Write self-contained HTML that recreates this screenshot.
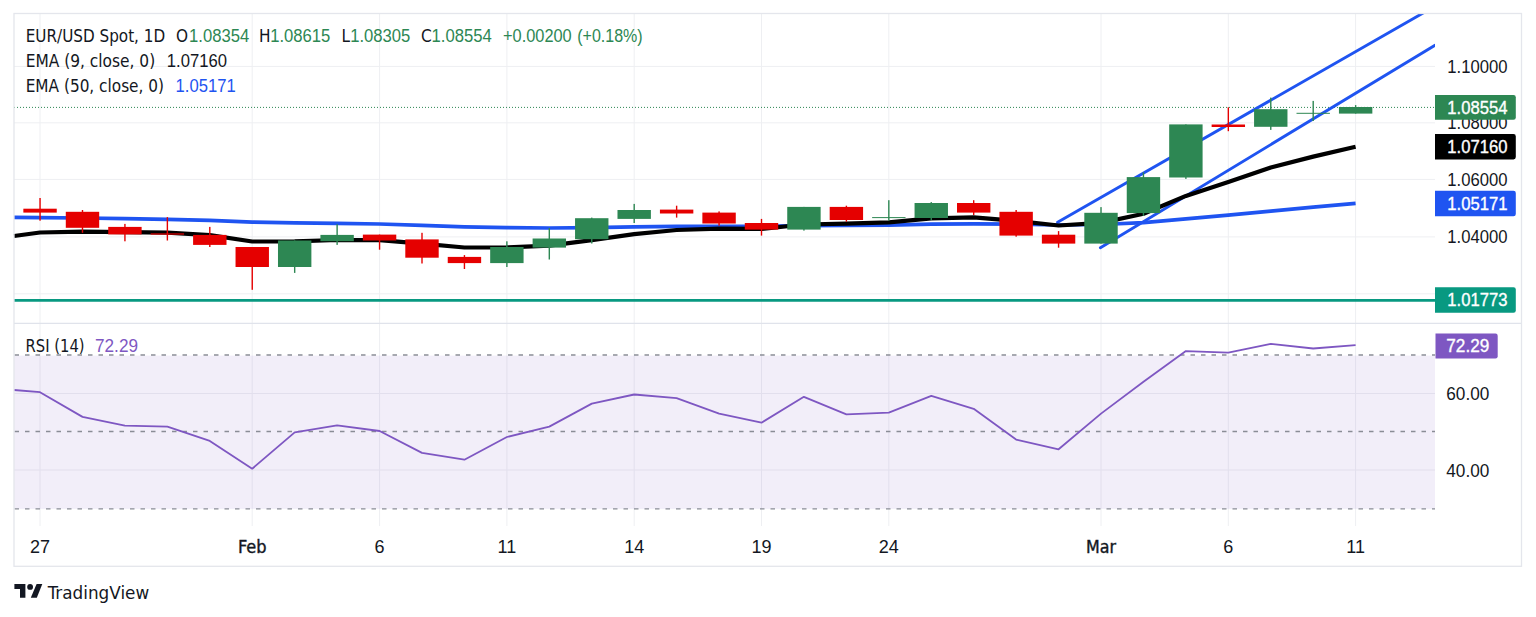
<!DOCTYPE html><html><head><meta charset="utf-8"><title>EUR/USD Spot 1D chart</title><style>
html,body{margin:0;padding:0;background:#fff;width:1536px;height:617px;overflow:hidden}
svg{display:block}
text{font-family:"DejaVu Sans","Liberation Sans",sans-serif;font-stretch:condensed;font-size:17px}
.b{font-weight:normal;stroke:#131722;stroke-width:0.35px}
.w{stroke:#fff;stroke-width:0.35px}
.n{font-family:"Liberation Sans","DejaVu Sans",sans-serif;font-stretch:normal;font-size:18px}
</style></head><body>
<svg width="1536" height="617" viewBox="0 0 1536 617" fill="#131722">
<rect width="1536" height="617" fill="#fff"/>
<g stroke="#eeeff2" stroke-width="1">
<line x1="14" y1="66.4" x2="1435" y2="66.4"/>
<line x1="14" y1="122.8" x2="1435" y2="122.8"/>
<line x1="14" y1="179.4" x2="1435" y2="179.4"/>
<line x1="14" y1="236.9" x2="1435" y2="236.9"/>
<line x1="14" y1="293.8" x2="1435" y2="293.8"/>
<line x1="14" y1="393.5" x2="1435" y2="393.5" />
<line x1="14" y1="470.0" x2="1435" y2="470.0" />
<line x1="40.0" y1="14" x2="40.0" y2="526"/>
<line x1="252.2" y1="14" x2="252.2" y2="526"/>
<line x1="379.6" y1="14" x2="379.6" y2="526"/>
<line x1="506.9" y1="14" x2="506.9" y2="526"/>
<line x1="634.2" y1="14" x2="634.2" y2="526"/>
<line x1="761.5" y1="14" x2="761.5" y2="526"/>
<line x1="888.8" y1="14" x2="888.8" y2="526"/>
<line x1="1101.0" y1="14" x2="1101.0" y2="526"/>
<line x1="1228.3" y1="14" x2="1228.3" y2="526"/>
<line x1="1355.6" y1="14" x2="1355.6" y2="526"/>
</g>
<rect x="14" y="355.6" width="1421" height="153.3" fill="#7e57c2" fill-opacity="0.1"/>
<g stroke="#8a8d96" stroke-width="1.3" stroke-dasharray="4.5 6">
<line x1="14.5" y1="355.0" x2="1435" y2="355.0"/>
<line x1="14.5" y1="431.5" x2="1435" y2="431.5"/>
<line x1="14.5" y1="508.9" x2="1435" y2="508.9"/>
</g>
<line x1="14" y1="323.4" x2="1521" y2="323.4" stroke="#e0e3eb" stroke-width="1.3"/>
<line x1="14" y1="107.4" x2="1435" y2="107.4" stroke="#2d8753" stroke-width="1" stroke-dasharray="1 2"/>
<line x1="14" y1="300.3" x2="1435" y2="300.3" stroke="#089981" stroke-width="2.8"/>
<clipPath id="cp"><rect x="14" y="14" width="1421" height="309"/></clipPath>
<g clip-path="url(#cp)" stroke="#1f54f1" stroke-width="2.9" stroke-linecap="round">
<line x1="1057.6" y1="222.2" x2="1424" y2="12.5"/>
<line x1="1100.4" y1="247.7" x2="1435" y2="45.2"/>
</g>
<polyline points="14.0,217.3 40.0,217.6 82.5,218.0 124.9,218.6 167.4,219.3 209.8,220.3 252.2,222.1 294.7,222.8 337.1,223.3 379.6,224.0 422.0,225.3 464.4,226.8 506.9,227.6 549.3,228.0 591.8,227.6 634.2,226.9 676.6,226.4 719.1,226.3 761.5,226.4 803.9,225.7 846.4,225.4 888.8,225.1 931.3,224.2 973.7,223.8 1016.1,224.2 1058.6,225.0 1101.0,224.5 1143.5,222.7 1185.9,218.8 1228.3,215.2 1270.8,211.1 1313.2,207.2 1355.6,203.3" fill="none" stroke="#1f54f1" stroke-width="3.7" stroke-linejoin="round"/>
<polyline points="14.0,236.0 40.0,232.5 82.5,231.6 124.9,232.1 167.4,232.6 209.8,235.1 252.2,241.5 294.7,241.3 337.1,240.0 379.6,240.1 422.0,243.6 464.4,247.5 506.9,247.4 549.3,245.6 591.8,240.1 634.2,234.1 676.6,230.0 719.1,228.7 761.5,228.9 803.9,224.5 846.4,223.6 888.8,222.3 931.3,218.4 973.7,217.3 1016.1,220.9 1058.6,225.5 1101.0,222.9 1143.5,213.8 1185.9,195.9 1228.3,182.1 1270.8,167.5 1313.2,156.6 1355.6,146.7" fill="none" stroke="#000" stroke-width="4.2" stroke-linejoin="round"/>
<rect x="39.35" y="198.0" width="1.4" height="22.7" fill="#e50000"/>
<rect x="23.35" y="208.7" width="33.4" height="3.9" fill="#e50000"/>
<rect x="81.79" y="210.0" width="1.4" height="22.8" fill="#e50000"/>
<rect x="65.79" y="211.8" width="33.4" height="16.0" fill="#e50000"/>
<rect x="124.23" y="223.9" width="1.4" height="17.4" fill="#e50000"/>
<rect x="108.23" y="226.9" width="33.4" height="7.5" fill="#e50000"/>
<rect x="166.67" y="217.1" width="1.4" height="23.4" fill="#e50000"/>
<rect x="150.67" y="233.4" width="33.4" height="1.2" fill="#e50000"/>
<rect x="209.10" y="226.9" width="1.4" height="20.1" fill="#e50000"/>
<rect x="193.10" y="234.9" width="33.4" height="10.0" fill="#e50000"/>
<rect x="251.54" y="247.0" width="1.4" height="42.8" fill="#e50000"/>
<rect x="235.54" y="247.0" width="33.4" height="20.0" fill="#e50000"/>
<rect x="293.98" y="240.5" width="1.4" height="32.4" fill="#2d8753"/>
<rect x="277.98" y="240.5" width="33.4" height="26.5" fill="#2d8753"/>
<rect x="336.42" y="224.2" width="1.4" height="20.7" fill="#2d8753"/>
<rect x="320.42" y="234.9" width="33.4" height="6.3" fill="#2d8753"/>
<rect x="378.86" y="234.6" width="1.4" height="15.1" fill="#e50000"/>
<rect x="362.86" y="234.6" width="33.4" height="5.9" fill="#e50000"/>
<rect x="421.30" y="232.8" width="1.4" height="30.7" fill="#e50000"/>
<rect x="405.30" y="239.4" width="33.4" height="18.3" fill="#e50000"/>
<rect x="463.74" y="255.1" width="1.4" height="13.9" fill="#e50000"/>
<rect x="447.74" y="256.9" width="33.4" height="6.2" fill="#e50000"/>
<rect x="506.17" y="241.3" width="1.4" height="25.7" fill="#2d8753"/>
<rect x="490.17" y="247.0" width="33.4" height="16.1" fill="#2d8753"/>
<rect x="548.61" y="228.0" width="1.4" height="31.5" fill="#2d8753"/>
<rect x="532.61" y="238.5" width="33.4" height="9.1" fill="#2d8753"/>
<rect x="591.05" y="217.6" width="1.4" height="25.9" fill="#2d8753"/>
<rect x="575.05" y="218.2" width="33.4" height="21.0" fill="#2d8753"/>
<rect x="633.49" y="203.9" width="1.4" height="19.1" fill="#2d8753"/>
<rect x="617.49" y="210.0" width="33.4" height="8.9" fill="#2d8753"/>
<rect x="675.93" y="205.7" width="1.4" height="11.9" fill="#e50000"/>
<rect x="659.93" y="209.6" width="33.4" height="3.9" fill="#e50000"/>
<rect x="718.37" y="211.4" width="1.4" height="14.3" fill="#e50000"/>
<rect x="702.37" y="212.6" width="33.4" height="10.9" fill="#e50000"/>
<rect x="760.80" y="218.9" width="1.4" height="16.7" fill="#e50000"/>
<rect x="744.80" y="223.0" width="33.4" height="6.6" fill="#e50000"/>
<rect x="803.24" y="206.9" width="1.4" height="23.7" fill="#2d8753"/>
<rect x="787.24" y="206.9" width="33.4" height="22.7" fill="#2d8753"/>
<rect x="845.68" y="205.7" width="1.4" height="16.0" fill="#e50000"/>
<rect x="829.68" y="206.9" width="33.4" height="13.1" fill="#e50000"/>
<rect x="888.12" y="200.2" width="1.4" height="20.5" fill="#2d8753"/>
<rect x="872.12" y="217.1" width="33.4" height="1.0" fill="#2d8753"/>
<rect x="930.56" y="202.1" width="1.4" height="17.9" fill="#2d8753"/>
<rect x="914.56" y="203.0" width="33.4" height="15.0" fill="#2d8753"/>
<rect x="973.00" y="200.2" width="1.4" height="14.8" fill="#e50000"/>
<rect x="957.00" y="203.0" width="33.4" height="9.6" fill="#e50000"/>
<rect x="1015.44" y="210.0" width="1.4" height="26.7" fill="#e50000"/>
<rect x="999.44" y="211.8" width="33.4" height="23.8" fill="#e50000"/>
<rect x="1057.87" y="231.1" width="1.4" height="16.6" fill="#e50000"/>
<rect x="1041.87" y="234.7" width="33.4" height="8.9" fill="#e50000"/>
<rect x="1100.31" y="207.1" width="1.4" height="36.5" fill="#2d8753"/>
<rect x="1084.31" y="212.8" width="33.4" height="30.8" fill="#2d8753"/>
<rect x="1142.75" y="172.3" width="1.4" height="43.7" fill="#2d8753"/>
<rect x="1126.75" y="177.1" width="33.4" height="36.0" fill="#2d8753"/>
<rect x="1185.19" y="124.4" width="1.4" height="54.5" fill="#2d8753"/>
<rect x="1169.19" y="124.4" width="33.4" height="53.1" fill="#2d8753"/>
<rect x="1227.63" y="107.3" width="1.4" height="23.9" fill="#e50000"/>
<rect x="1211.63" y="124.5" width="33.4" height="2.5" fill="#e50000"/>
<rect x="1270.07" y="97.6" width="1.4" height="32.3" fill="#2d8753"/>
<rect x="1254.07" y="109.2" width="33.4" height="17.6" fill="#2d8753"/>
<rect x="1312.50" y="100.9" width="1.4" height="20.1" fill="#2d8753"/>
<rect x="1296.50" y="112.8" width="33.4" height="1.0" fill="#2d8753"/>
<rect x="1354.94" y="105.1" width="1.4" height="8.5" fill="#2d8753"/>
<rect x="1338.94" y="107.0" width="33.4" height="6.6" fill="#2d8753"/>
<polyline points="14.0,390.0 40.0,392.2 82.5,416.9 124.9,425.6 167.4,426.6 209.8,440.9 252.2,468.7 294.7,432.4 337.1,425.3 379.6,431.0 422.0,452.9 464.4,459.7 506.9,437.0 549.3,426.6 591.8,403.6 634.2,394.5 676.6,398.1 719.1,413.6 761.5,422.7 803.9,396.8 846.4,414.3 888.8,412.7 931.3,395.8 973.7,408.8 1016.1,439.6 1058.6,449.3 1101.0,413.6 1143.5,381.8 1185.9,351.1 1228.3,352.7 1270.8,343.9 1313.2,348.5 1355.6,345.2" fill="none" stroke="#7e57c2" stroke-width="1.8" stroke-linejoin="round"/>
<rect x="14" y="13.5" width="1507.5" height="552.8" fill="none" stroke="#e4e6ec" stroke-width="1.3"/>
<text x="25.7" y="41.7" textLength="139.5" lengthAdjust="spacingAndGlyphs">EUR/USD Spot, 1D</text>
<text x="176.0" y="41.7">O</text>
<text x="189.0" y="41.7" fill="#2d8753" textLength="60.2" lengthAdjust="spacingAndGlyphs" class="n">1.08354</text>
<text x="258.9" y="41.7">H</text>
<text x="270.2" y="41.7" fill="#2d8753" textLength="60.2" lengthAdjust="spacingAndGlyphs" class="n">1.08615</text>
<text x="341.4" y="41.7">L</text>
<text x="350.2" y="41.7" fill="#2d8753" textLength="60.2" lengthAdjust="spacingAndGlyphs" class="n">1.08305</text>
<text x="421.0" y="41.7">C</text>
<text x="431.6" y="41.7" fill="#2d8753" textLength="60.2" lengthAdjust="spacingAndGlyphs" class="n">1.08554</text>
<text x="503.0" y="41.7" fill="#2d8753" textLength="68.7" lengthAdjust="spacingAndGlyphs" class="n">+0.00200</text>
<text x="577.2" y="41.7" fill="#2d8753" textLength="65.5" lengthAdjust="spacingAndGlyphs" class="n">(+0.18%)</text>
<text x="25.7" y="66.8" textLength="129.5" lengthAdjust="spacingAndGlyphs">EMA (9, close, 0)</text>
<text x="166.8" y="66.8" textLength="60.2" lengthAdjust="spacingAndGlyphs" class="n">1.07160</text>
<text x="25.7" y="91.6" textLength="138.3" lengthAdjust="spacingAndGlyphs">EMA (50, close, 0)</text>
<text x="175.5" y="91.6" fill="#1f54f1" textLength="60.2" lengthAdjust="spacingAndGlyphs" class="n">1.05171</text>
<text x="25.6" y="351.9" textLength="59.0" lengthAdjust="spacingAndGlyphs">RSI (14)</text>
<text x="95.0" y="351.9" fill="#7e57c2" textLength="43.0" lengthAdjust="spacingAndGlyphs" class="n">72.29</text>
<text x="1447.3" y="72.6" textLength="60.2" lengthAdjust="spacingAndGlyphs" class="n">1.10000</text>
<text x="1447.3" y="129.3" textLength="60.2" lengthAdjust="spacingAndGlyphs" class="n">1.08000</text>
<text x="1447.3" y="185.8" textLength="60.2" lengthAdjust="spacingAndGlyphs" class="n">1.06000</text>
<text x="1447.3" y="242.8" textLength="60.2" lengthAdjust="spacingAndGlyphs" class="n">1.04000</text>
<path d="M1435,95.0 H1513.5 Q1515.8,95.0 1515.8,97.3 V117.4 Q1515.8,119.7 1513.5,119.7 H1435 Z" fill="#2d8753"/>
<text x="1447.3" y="113.55" fill="#fff" textLength="60.2" lengthAdjust="spacingAndGlyphs" class="n w">1.08554</text>
<path d="M1435,134.1 H1513.5 Q1515.8,134.1 1515.8,136.4 V157.1 Q1515.8,159.4 1513.5,159.4 H1435 Z" fill="#000"/>
<text x="1447.3" y="152.95" fill="#fff" textLength="60.2" lengthAdjust="spacingAndGlyphs" class="n w">1.07160</text>
<path d="M1435,190.8 H1513.5 Q1515.8,190.8 1515.8,193.10000000000002 V213.89999999999998 Q1515.8,216.2 1513.5,216.2 H1435 Z" fill="#1f54f1"/>
<text x="1447.3" y="209.7" fill="#fff" textLength="60.2" lengthAdjust="spacingAndGlyphs" class="n w">1.05171</text>
<path d="M1435,287.2 H1513.5 Q1515.8,287.2 1515.8,289.5 V310.5 Q1515.8,312.8 1513.5,312.8 H1435 Z" fill="#089981"/>
<text x="1447.3" y="306.2" fill="#fff" textLength="60.2" lengthAdjust="spacingAndGlyphs" class="n w">1.01773</text>
<path d="M1435.5,333.6 H1495.5 Q1497.7,333.6 1497.7,335.8 V356.3 Q1497.7,358.5 1495.5,358.5 H1435.5 Z" fill="#7e57c2"/>
<text x="1446.3" y="352.2" fill="#fff" textLength="43.0" lengthAdjust="spacingAndGlyphs" class="n w">72.29</text>
<text x="1446.3" y="400.0" textLength="43.0" lengthAdjust="spacingAndGlyphs" class="n">60.00</text>
<text x="1446.3" y="476.6" textLength="43.0" lengthAdjust="spacingAndGlyphs" class="n">40.00</text>
<text x="40.0" y="552.8" class="n" text-anchor="middle">27</text>
<text x="252.2" y="552.8" textLength="28.6" lengthAdjust="spacingAndGlyphs" class="b" text-anchor="middle">Feb</text>
<text x="379.6" y="552.8" class="n" text-anchor="middle">6</text>
<text x="506.9" y="552.8" class="n" text-anchor="middle">11</text>
<text x="634.2" y="552.8" class="n" text-anchor="middle">14</text>
<text x="761.5" y="552.8" class="n" text-anchor="middle">19</text>
<text x="888.8" y="552.8" class="n" text-anchor="middle">24</text>
<text x="1101.0" y="552.8" textLength="30.0" lengthAdjust="spacingAndGlyphs" class="b" text-anchor="middle">Mar</text>
<text x="1228.3" y="552.8" class="n" text-anchor="middle">6</text>
<text x="1355.6" y="552.8" class="n" text-anchor="middle">11</text>
<g fill="#131722">
<path d="M14.4,584 H25.4 V597.8 H20 V588.9 H14.4 Z"/>
<circle cx="30.1" cy="586.9" r="2.9"/>
<path d="M36.6,584 H42.3 L36.8,597.8 H30.8 Z"/>
</g>
<text x="47.8" y="598.8" style="font-size:18px" textLength="101.4" lengthAdjust="spacingAndGlyphs">TradingView</text>
</svg></body></html>
